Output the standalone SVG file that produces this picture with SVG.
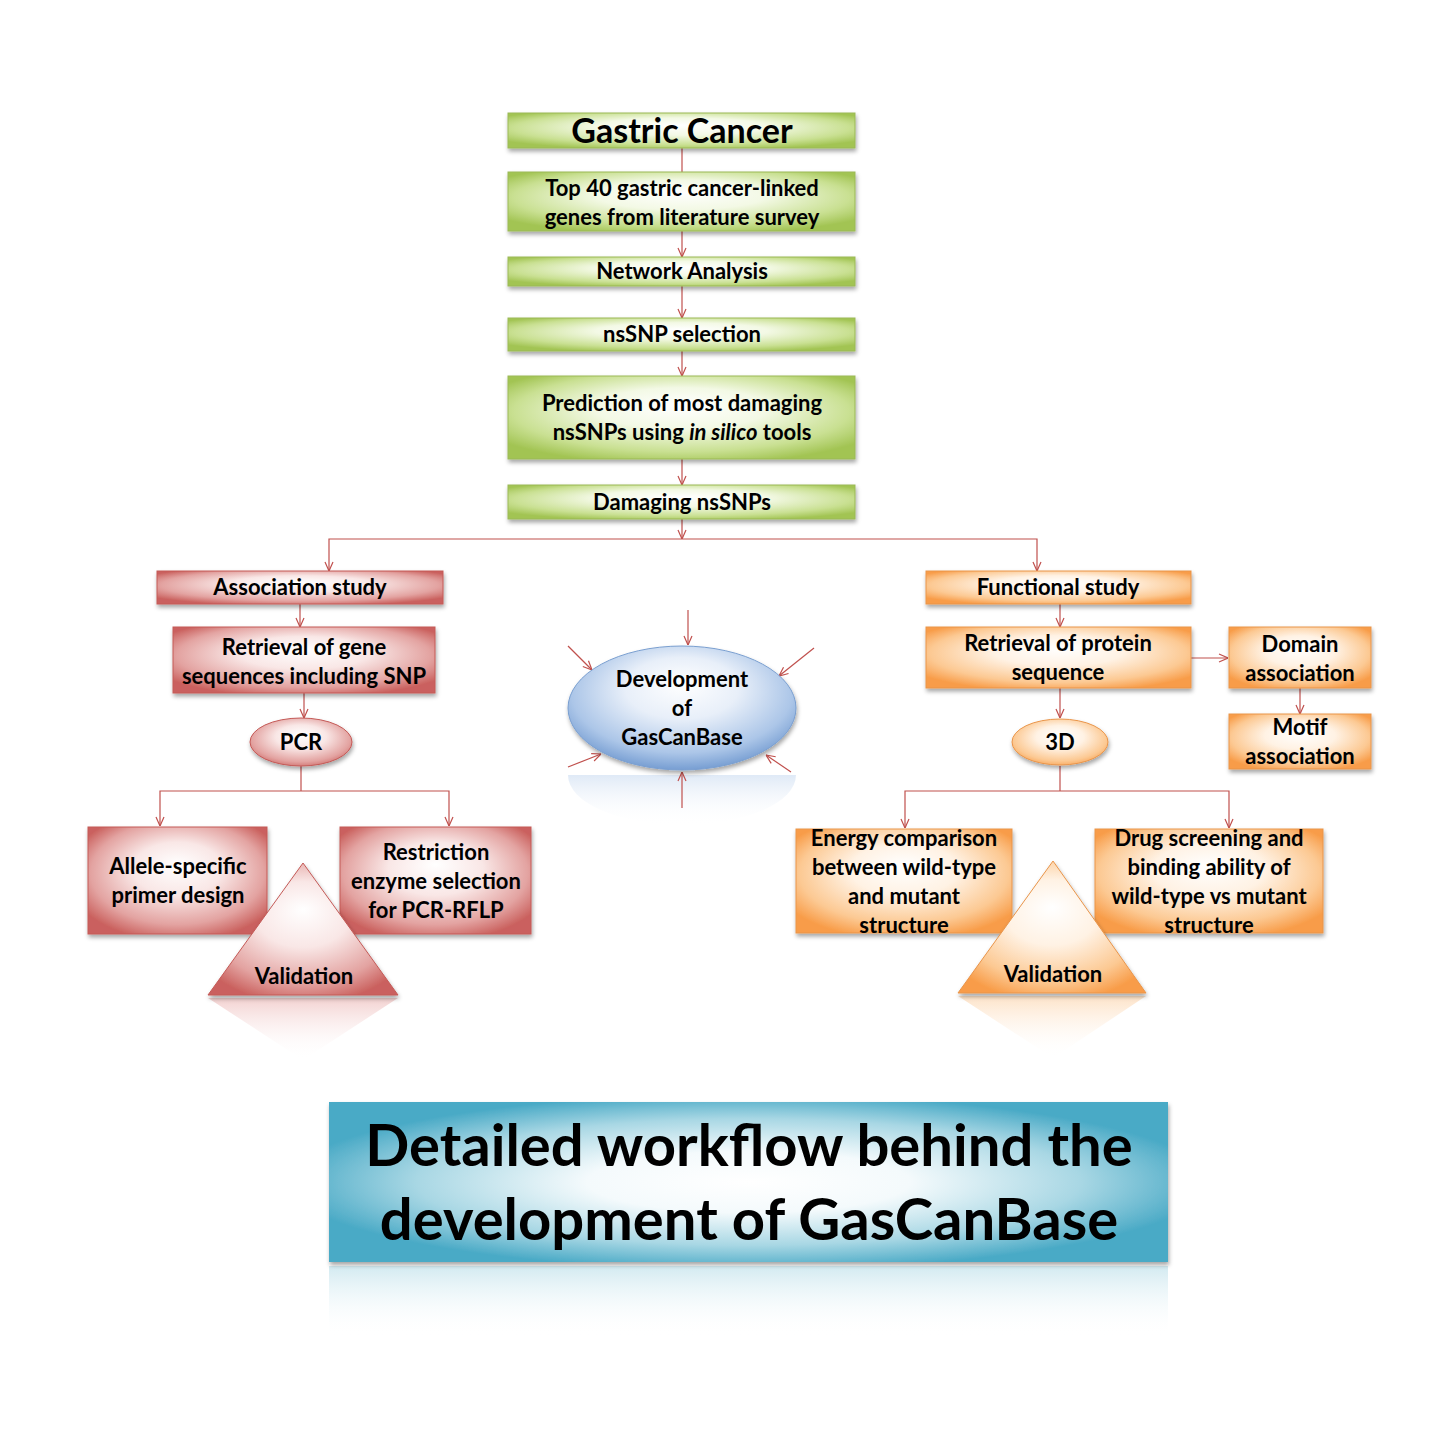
<svg xmlns="http://www.w3.org/2000/svg" width="1440" height="1440" viewBox="0 0 1440 1440">
<defs>
<style>
.t{font-family:Lato,"Open Sans","Liberation Sans",sans-serif;font-weight:bold;fill:#000;text-anchor:middle;}
.f20{font-size:22px;}
.c{fill:none;stroke:#c0504d;stroke-width:1.2;}
.ca{fill:none;stroke:#c0504d;stroke-width:1.2;marker-end:url(#arr);}
.g{fill:url(#gGreen);stroke:#9bb957;stroke-width:1;filter:url(#sh);}
.r{fill:url(#gRed);stroke:#c45a57;stroke-width:1;filter:url(#sh);}
.o{fill:url(#gOrange);stroke:#e9954a;stroke-width:1;filter:url(#sh);}
</style>
<marker id="arr" viewBox="0 0 10 10" refX="10" refY="5" markerWidth="10" markerHeight="10" markerUnits="userSpaceOnUse" orient="auto">
<path d="M1,1 L10,5 L1,9" fill="none" stroke="#c0504d" stroke-width="1.2"/>
</marker>
<filter id="sh" x="-10%" y="-20%" width="120%" height="160%">
<feDropShadow dx="1" dy="3" stdDeviation="2" flood-color="#000" flood-opacity="0.35"/>
</filter>
<radialGradient id="gGreen" cx="50%" cy="45%" r="62%" fx="50%" fy="35%">
<stop offset="0" stop-color="#ffffff"/>
<stop offset="0.4" stop-color="#f3f9e5"/>
<stop offset="0.78" stop-color="#c9e092"/>
<stop offset="1" stop-color="#a2c453"/>
</radialGradient>
<radialGradient id="gRed" cx="50%" cy="45%" r="62%" fx="50%" fy="35%">
<stop offset="0" stop-color="#ffffff"/>
<stop offset="0.4" stop-color="#f9e7e6"/>
<stop offset="0.78" stop-color="#e3a3a1"/>
<stop offset="1" stop-color="#ca615e"/>
</radialGradient>
<radialGradient id="gOrange" cx="50%" cy="45%" r="62%" fx="50%" fy="35%">
<stop offset="0" stop-color="#ffffff"/>
<stop offset="0.4" stop-color="#fff2e4"/>
<stop offset="0.78" stop-color="#fcc993"/>
<stop offset="1" stop-color="#f89c48"/>
</radialGradient>
<radialGradient id="gBlue" cx="50%" cy="40%" r="62%" fx="50%" fy="30%">
<stop offset="0" stop-color="#ffffff"/>
<stop offset="0.4" stop-color="#e8eff9"/>
<stop offset="0.78" stop-color="#acc6e8"/>
<stop offset="1" stop-color="#6f98cf"/>
</radialGradient>
<radialGradient id="gTitle" cx="50%" cy="50%" r="55%">
<stop offset="0" stop-color="#ffffff"/>
<stop offset="0.35" stop-color="#f4fafc"/>
<stop offset="0.72" stop-color="#a8d7e4"/>
<stop offset="1" stop-color="#4aaac6"/>
</radialGradient>
<linearGradient id="fadeRed" x1="0" y1="0" x2="0" y2="1">
<stop offset="0" stop-color="#e7a3a1" stop-opacity="0.5"/>
<stop offset="1" stop-color="#ffffff" stop-opacity="0"/>
</linearGradient>
<linearGradient id="fadeOrange" x1="0" y1="0" x2="0" y2="1">
<stop offset="0" stop-color="#fbc690" stop-opacity="0.5"/>
<stop offset="1" stop-color="#ffffff" stop-opacity="0"/>
</linearGradient>
<linearGradient id="fadeBlue" x1="0" y1="0" x2="0" y2="1">
<stop offset="0" stop-color="#b8cfec" stop-opacity="0.45"/>
<stop offset="1" stop-color="#ffffff" stop-opacity="0"/>
</linearGradient>
<linearGradient id="fadeTeal" x1="0" y1="0" x2="0" y2="1">
<stop offset="0" stop-color="#8fcadb" stop-opacity="0.4"/>
<stop offset="1" stop-color="#ffffff" stop-opacity="0"/>
</linearGradient>
</defs>
<rect width="1440" height="1440" fill="#fff"/>

<!-- reflections -->
<g id="reflections">
<polygon points="208,998 398,998 303,1060" fill="url(#fadeRed)"/>
<polygon points="958,996 1146,996 1053,1058" fill="url(#fadeOrange)"/>
<path d="M568,775 A114,50 0 0 0 796,775 Z" fill="url(#fadeBlue)"/>
<rect x="329" y="1266" width="839" height="70" fill="url(#fadeTeal)"/>
</g>

<!-- connectors -->
<g id="connectors">
<line class="c" x1="682" y1="148" x2="682" y2="172"/>
<line class="ca" x1="682" y1="231" x2="682" y2="257"/>
<line class="ca" x1="682" y1="286" x2="682" y2="318"/>
<line class="ca" x1="682" y1="351" x2="682" y2="376"/>
<line class="ca" x1="682" y1="459" x2="682" y2="485"/>
<line class="ca" x1="682" y1="519" x2="682" y2="539"/>
<polyline class="ca" points="682,539 329,539 329,571"/>
<polyline class="ca" points="682,539 1037,539 1037,571"/>
<line class="ca" x1="300" y1="604" x2="300" y2="627"/>
<line class="ca" x1="304" y1="693" x2="304" y2="718"/>
<line class="c" x1="301" y1="766" x2="301" y2="791"/>
<polyline class="ca" points="301,791 160,791 160,826"/>
<polyline class="ca" points="301,791 449,791 449,826"/>
<line class="ca" x1="1060" y1="604" x2="1060" y2="627"/>
<line class="ca" x1="1191" y1="658" x2="1228" y2="658"/>
<line class="ca" x1="1300" y1="688" x2="1300" y2="714"/>
<line class="ca" x1="1060" y1="688" x2="1060" y2="718"/>
<line class="c" x1="1060" y1="766" x2="1060" y2="791"/>
<polyline class="ca" points="1060,791 905,791 905,828"/>
<polyline class="ca" points="1060,791 1229,791 1229,828"/>
<line class="ca" x1="688" y1="610" x2="688" y2="645"/>
<line class="ca" x1="568" y1="646" x2="592" y2="670"/>
<line class="ca" x1="814" y1="648" x2="779" y2="676"/>
<line class="ca" x1="568" y1="767" x2="601" y2="754"/>
<line class="ca" x1="791" y1="772" x2="766" y2="755"/>
<line class="ca" x1="682" y1="808" x2="682" y2="772"/>
</g>

<!-- green column -->
<g id="gastric-cancer"><rect class="g" x="508" y="113" width="347" height="35"/><text class="t" x="682" y="143" font-size="34">Gastric Cancer</text></g>
<g id="top40"><rect class="g" x="508" y="172" width="347" height="59"/><text class="t f20" x="682" y="196">Top 40 gastric cancer-linked</text><text class="t f20" x="682" y="225">genes from literature survey</text></g>
<g id="network"><rect class="g" x="508" y="257" width="347" height="29"/><text class="t f20" x="682" y="279">Network Analysis</text></g>
<g id="nssnp"><rect class="g" x="508" y="318" width="347" height="33"/><text class="t f20" x="682" y="342">nsSNP selection</text></g>
<g id="prediction"><rect class="g" x="508" y="376" width="347" height="83"/><text class="t f20" x="682" y="411">Prediction of most damaging</text><text class="t f20" x="682" y="440">nsSNPs using <tspan font-style="italic">in silico</tspan> tools</text></g>
<g id="damaging"><rect class="g" x="508" y="485" width="347" height="34"/><text class="t f20" x="682" y="510">Damaging nsSNPs</text></g>

<!-- left red branch -->
<g id="association"><rect class="r" x="157" y="571" width="286" height="33"/><text class="t f20" x="300" y="595">Association study</text></g>
<g id="retrieval-gene"><rect class="r" x="173" y="627" width="262" height="66"/><text class="t f20" x="304" y="655">Retrieval of gene</text><text class="t f20" x="304" y="684">sequences including SNP</text></g>
<g id="pcr"><ellipse cx="301" cy="742" rx="51" ry="24" fill="url(#gRed)" stroke="#c45a57" filter="url(#sh)"/><text class="t f20" x="301" y="750">PCR</text></g>
<g id="allele"><rect class="r" x="88" y="827" width="179" height="107"/><text class="t f20" x="178" y="874">Allele-specific</text><text class="t f20" x="178" y="903">primer design</text></g>
<g id="restriction"><rect class="r" x="340" y="827" width="191" height="107"/><text class="t f20" x="436" y="860">Restriction</text><text class="t f20" x="436" y="889">enzyme selection</text><text class="t f20" x="436" y="918">for PCR-RFLP</text></g>
<g id="validation-left"><polygon class="r" points="303,863 398,995 208,995"/><text class="t f20" x="304" y="984">Validation</text></g>

<!-- center -->
<g id="development"><ellipse cx="682" cy="708" rx="114" ry="62" fill="url(#gBlue)" stroke="#7a9fd0" filter="url(#sh)"/><text class="t f20" x="682" y="687">Development</text><text class="t f20" x="682" y="716">of</text><text class="t f20" x="682" y="745">GasCanBase</text></g>

<!-- right orange branch -->
<g id="functional"><rect class="o" x="926" y="571" width="265" height="33"/><text class="t f20" x="1058" y="595">Functional study</text></g>
<g id="retrieval-protein"><rect class="o" x="926" y="627" width="265" height="61"/><text class="t f20" x="1058" y="651">Retrieval of protein</text><text class="t f20" x="1058" y="680">sequence</text></g>
<g id="domain"><rect class="o" x="1229" y="627" width="142" height="61"/><text class="t f20" x="1300" y="652">Domain</text><text class="t f20" x="1300" y="681">association</text></g>
<g id="motif"><rect class="o" x="1229" y="714" width="142" height="55"/><text class="t f20" x="1300" y="735">Motif</text><text class="t f20" x="1300" y="764">association</text></g>
<g id="threeD"><ellipse cx="1060" cy="742" rx="48" ry="23" fill="url(#gOrange)" stroke="#e9954a" filter="url(#sh)"/><text class="t f20" x="1060" y="750">3D</text></g>
<g id="energy"><rect class="o" x="796" y="829" width="216" height="104"/><text class="t f20" x="904" y="846">Energy comparison</text><text class="t f20" x="904" y="875">between wild-type</text><text class="t f20" x="904" y="904">and mutant</text><text class="t f20" x="904" y="933">structure</text></g>
<g id="drug"><rect class="o" x="1095" y="829" width="228" height="104"/><text class="t f20" x="1209" y="846">Drug screening and</text><text class="t f20" x="1209" y="875">binding ability of</text><text class="t f20" x="1209" y="904">wild-type vs mutant</text><text class="t f20" x="1209" y="933">structure</text></g>
<g id="validation-right"><polygon class="o" points="1053,861 1146,993 958,993"/><text class="t f20" x="1053" y="982">Validation</text></g>

<!-- title -->
<g id="title"><rect x="329" y="1102" width="839" height="160" fill="url(#gTitle)" filter="url(#sh)"/><text class="t" x="749" y="1166" font-size="58">Detailed workflow behind the</text><text class="t" x="749" y="1240" font-size="58">development of GasCanBase</text></g>
</svg>
